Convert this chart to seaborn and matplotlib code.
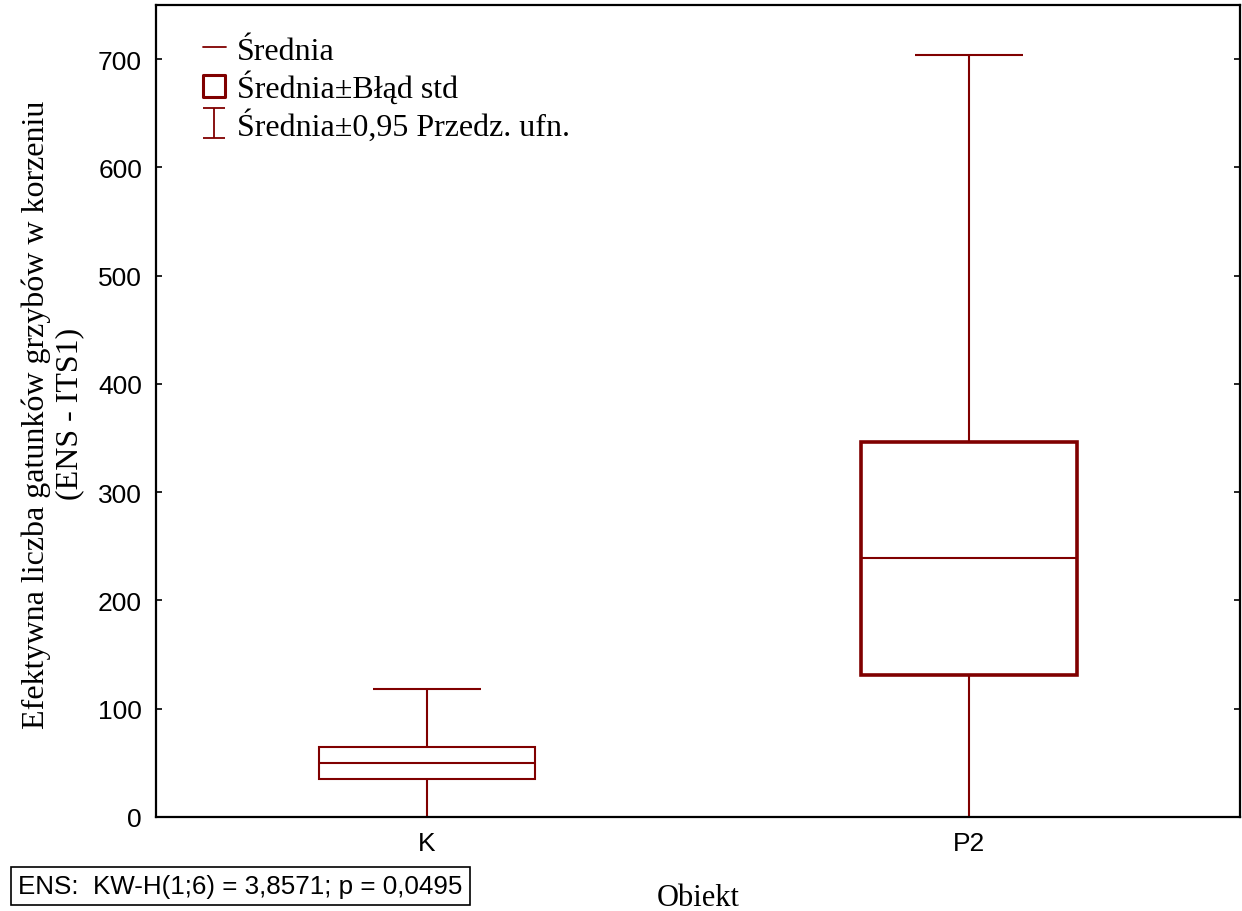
import numpy as np
import pandas as pd
import matplotlib
matplotlib.use("Agg")
import matplotlib.pyplot as plt
import seaborn as sns
from matplotlib.lines import Line2D
from matplotlib.path import Path

# ---- data ----
categories = ["K", "P2"]
means = [49.8, 239.2]
std_err = [14.9, 107.6]
ci95 = [68.4, 464.5]
y_ticks = [0, 100, 200, 300, 400, 500, 600, 700]

xlabel = "Obiekt"
ylabel = "Efektywna liczba gatunków grzybów w korzeniu\n(ENS - ITS1)"
legend_labels = ["Średnia", "Średnia±Błąd std", "Średnia±0,95 Przedz. ufn."]
stat_text = "ENS:  KW-H(1;6) = 3,8571; p = 0,0495"

df = pd.DataFrame({"cat": categories, "mean": means, "se": std_err, "ci": ci95})

sns.set_theme(style="ticks")
plt.rcParams["font.family"] = ["Liberation Sans", "DejaVu Sans"]
plt.rcParams["text.color"] = "black"

RED = "#800000"
SERIF = ["Liberation Serif", "DejaVu Serif"]

fig = plt.figure(figsize=(12.42, 9.12), dpi=100)
ax = fig.add_axes([156 / 1242, 1 - 818 / 912, (1240 - 156) / 1242, (818 - 6) / 912])

xpos = np.arange(len(df))
box_w = 0.4
cap_w = 0.2
box_lw = [1.5, 2.6]

for i, row in df.iterrows():
    x = xpos[i]
    lo_ci, hi_ci = row["mean"] - row["ci"], row["mean"] + row["ci"]
    lo_se, hi_se = row["mean"] - row["se"], row["mean"] + row["se"]
    # whisker (CI)
    ax.vlines(x, lo_ci, hi_ci, color=RED, lw=1.5, zorder=2)
    ax.hlines([lo_ci, hi_ci], x - cap_w / 2, x + cap_w / 2, color=RED, lw=1.5, zorder=2)
    # box (SE)
    ax.bar(x, hi_se - lo_se, bottom=lo_se, width=box_w, facecolor="white",
           edgecolor=RED, linewidth=box_lw[i], zorder=3)
    # mean
    ax.hlines(row["mean"], x - box_w / 2, x + box_w / 2, color=RED, lw=1.5, zorder=4)

ax.set_xlim(-0.5, len(df) - 0.5)
ax.set_ylim(0, 750)
ax.set_xticks(xpos)
ax.set_xticklabels(categories)
ax.set_yticks(y_ticks)
ax.tick_params(axis="both", direction="in", length=4, width=1.2, labelsize=19,
               colors="black", pad=10)
ax.tick_params(axis="y", right=True, labelright=False)
for s in ax.spines.values():
    s.set_visible(True)
    s.set_color("black")
    s.set_linewidth(1.6)

ax.set_xlabel(xlabel, fontsize=22, family=SERIF, color="black", va="top")
ax.xaxis.set_label_coords(0.5, -(884 - 818) / 812)
ax.set_ylabel(ylabel, fontsize=23, family=SERIF, color="black", linespacing=1.2)
ax.yaxis.set_label_coords(-(156 - 84) / 1084, 0.497)

# legend
ibeam = Path([(-0.75, -1), (0.75, -1), (0, -1), (0, 1), (-0.75, 1), (0.75, 1)],
             [Path.MOVETO, Path.LINETO, Path.MOVETO, Path.LINETO, Path.MOVETO, Path.LINETO])
square = Path([(-1, -1), (1, -1), (1, 1), (-1, 1), (-1, -1)],
              [Path.MOVETO, Path.LINETO, Path.LINETO, Path.LINETO, Path.CLOSEPOLY])
handles = [
    Line2D([0], [0], color=RED, lw=1.3),
    Line2D([0], [0], linestyle="none", marker=square, markersize=16, markerfacecolor="none",
           markeredgecolor=RED, markeredgewidth=2.2),
    Line2D([0], [0], linestyle="none", marker=ibeam, markersize=22, fillstyle="none",
           markeredgecolor=RED, markeredgewidth=1.3),
]
leg = ax.legend(handles, legend_labels, loc="upper left", bbox_to_anchor=(0.0227, 0.989),
                frameon=False, prop={"family": SERIF, "size": 23}, handlelength=0.72,
                handletextpad=0.35, labelspacing=0.15, borderaxespad=0.3, borderpad=0.4,
                labelcolor="black")

fig.text(18 / 1242, 1 - 887 / 912, stat_text, fontsize=18.7, va="center", ha="left",
         color="black",
         bbox=dict(boxstyle="square,pad=0.28", facecolor="white", edgecolor="black", linewidth=1.2))

fig.savefig("out.png", dpi=100, facecolor="white")
